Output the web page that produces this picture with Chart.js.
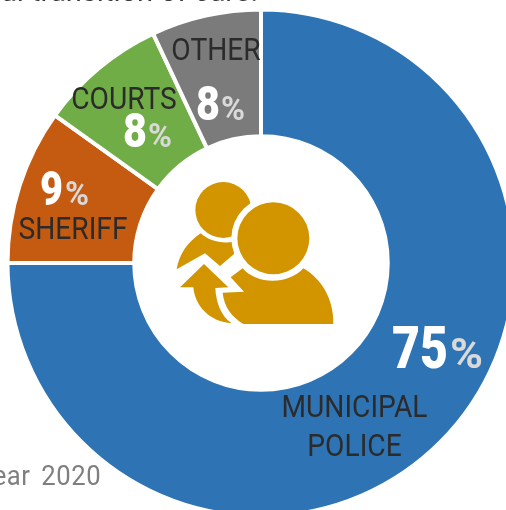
<!DOCTYPE html>
<html>
<head>
<meta charset="utf-8">
<script src="https://cdn.jsdelivr.net/npm/chart.js@4/dist/chart.umd.min.js"></script>
<style>
html, body { margin: 0; padding: 0; background: #fff; overflow: hidden; width: 506px; height: 510px; }
#wrap { position: absolute; left: 0; top: 0; width: 522px; height: 526px; }
.note { position: absolute; white-space: nowrap; font-family: Roboto, sans-serif; transform-origin: right top; }
</style>
</head>
<body>
<div id="wrap"><canvas id="chart" width="522" height="526"></canvas></div>
<div class="note" style="right:248px;top:-27px;font-size:30px;color:#3a3a3a;transform:scaleX(0.97)">al transition of care.</div>
<div class="note" style="right:405px;top:460px;font-size:27px;color:#7f7f7f;transform:scaleX(0.95);word-spacing:4px;letter-spacing:0.6px">Year 2020</div>
<script>
// categories and values
const categories = ['MUNICIPAL POLICE', 'SHERIFF', 'COURTS', 'OTHER'];
// slice sizes as drawn (the printed labels round differently)
const sliceShares = [75, 9.9, 8.1, 7];
const printedPercents = [75, 9, 8, 8];
const sliceColors = ['#2e74b5', '#c55a11', '#70ad47', '#7b7b7b'];

const FONT = 'Roboto, sans-serif';
const NAME_SCALE = 0.88;

/**
 * Where each label sits, relative to the chart centre
 */
const labelSpots = [
    { lines: ['MUNICIPAL', 'POLICE'], nameX: 93.5, nameY: [154, 193], numX: 131, numW: 56, pctX: 189, pctW: 33, pctY: 105, numSize: 60, unitSize: 43 },
    { lines: ['SHERIFF'], nameX: -188, nameY: [-24], numX: -221, numW: 23, pctX: -196, pctW: 24, pctY: -58, numSize: 48, unitSize: 34 },
    { lines: ['COURTS'], nameX: -137, nameY: [-154], numX: -138, numW: 24, pctX: -113, pctW: 24, pctY: -116, numSize: 48, unitSize: 34 },
    { lines: ['OTHER'], nameX: -45, nameY: [-203], numX: -65, numW: 24, pctX: -40, pctW: 24, pctY: -143, numSize: 48, unitSize: 34 }
];

/**
 * Draw text squeezed to a given width, Roboto Condensed is not available
 */
const fitText = (ctx, text, x, y, width) => {
    const natural = ctx.measureText(text).width;
    ctx.save();
    ctx.translate(x, y);
    ctx.scale(width / natural, 1);
    ctx.fillText(text, 0, 0);
    ctx.restore();
};

/**
 * Person icon in the doughnut hole
 */
const drawIcon = (ctx, cx, cy) => {
    ctx.save();
    ctx.translate(cx, cy);
    ctx.scale(1 / 3, 1 / 3);
    // icon traced at 3x, origin moved to the chart centre
    ctx.translate(-303, -279);
    ctx.fillStyle = '#d29500';

    const backHead = new Path2D();
    backHead.arc(190, 120, 84, 0, Math.PI * 2);
    ctx.fill(backHead);

    const backBody = new Path2D();
    backBody.moveTo(50, 298);
    backBody.bezierCurveTo(58, 250, 85, 215, 122, 190);
    backBody.bezierCurveTo(145, 212, 185, 222, 222, 215);
    backBody.lineTo(222, 252);
    backBody.lineTo(180, 288);
    backBody.lineTo(135, 250);
    backBody.closePath();
    ctx.fill(backBody);

    // white ring separating the front figure
    ctx.fillStyle = '#fff';
    ctx.beginPath();
    ctx.arc(340, 205, 126, 0, Math.PI * 2);
    ctx.fill();

    ctx.fillStyle = '#d29500';
    ctx.beginPath();
    ctx.arc(340, 205, 108, 0, Math.PI * 2);
    ctx.fill();

    const frontBody = new Path2D();
    frontBody.moveTo(212, 322);
    frontBody.lineTo(248, 295);
    frontBody.bezierCurveTo(290, 345, 385, 345, 430, 295);
    frontBody.bezierCurveTo(490, 330, 522, 395, 520, 462);
    frontBody.lineTo(250, 462);
    frontBody.bezierCurveTo(215, 440, 192, 410, 188, 368);
    frontBody.lineTo(252, 365);
    frontBody.closePath();
    ctx.fill(frontBody);

    const arrow = new Path2D();
    arrow.moveTo(60, 352);
    arrow.lineTo(132, 282);
    arrow.lineTo(205, 352);
    arrow.lineTo(166, 354);
    arrow.bezierCurveTo(168, 400, 185, 440, 215, 460);
    arrow.bezierCurveTo(150, 455, 105, 410, 100, 352);
    arrow.closePath();
    ctx.fill(arrow);
    ctx.restore();
};

const sliceLabels = {
    id: 'sliceLabels',
    afterDatasetsDraw(chart) {
        const { ctx } = chart;
        const arc = chart.getDatasetMeta(0).data[0];
        const cx = arc.x;
        const cy = arc.y;

        drawIcon(ctx, cx, cy);

        ctx.save();
        ctx.textBaseline = 'alphabetic';
        ctx.textAlign = 'left';
        labelSpots.forEach((spot, idx) => {
            ctx.fillStyle = '#2b2b2b';
            ctx.font = `32px ${FONT}`;
            spot.lines.forEach((line, lineIdx) => {
                const w = ctx.measureText(line).width * NAME_SCALE;
                fitText(ctx, line, cx + spot.nameX - w / 2, cy + spot.nameY[lineIdx], w);
            });

            ctx.fillStyle = '#fff';
            ctx.font = `900 ${spot.numSize}px ${FONT}`;
            fitText(ctx, String(printedPercents[idx]), cx + spot.numX, cy + spot.pctY, spot.numW);

            ctx.fillStyle = '#d9d9d9';
            ctx.font = `bold ${spot.unitSize}px ${FONT}`;
            fitText(ctx, '%', cx + spot.pctX, cy + spot.pctY, spot.pctW);
        });
        ctx.restore();
    }
};

new Chart(document.getElementById('chart'), {
    type: 'doughnut',
    data: {
        labels: categories,
        datasets: [{
            data: sliceShares,
            backgroundColor: sliceColors,
            borderColor: '#fff',
            borderWidth: 4,
            borderAlign: 'center',
            hoverOffset: 0
        }]
    },
    options: {
        responsive: false,
        animation: false,
        cutout: '50%',
        layout: { padding: 5.5 },
        plugins: {
            legend: { display: false },
            tooltip: { enabled: false }
        }
    },
    plugins: [sliceLabels]
});
</script>
</body>
</html>
